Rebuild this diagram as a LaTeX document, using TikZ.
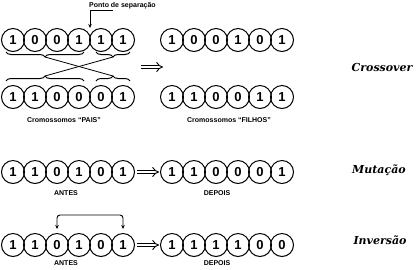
\documentclass[tikz,border=0pt]{standalone}
\usepackage{fontspec}
\setmainfont{Liberation Sans}
\newfontfamily\headfont{DejaVu Serif}
\usetikzlibrary{arrows.meta,positioning,calc,decorations.pathreplacing}

\begin{document}
\begin{tikzpicture}[x=1pt,y=1pt,
   bit/.style={circle,draw,line width=1pt,minimum size=23pt,inner sep=0pt,font=\bfseries\fontsize{13}{13}\selectfont},
   lbl/.style={font=\bfseries\fontsize{7}{8}\selectfont,inner sep=1pt},
   ttl/.style={font=\headfont\bfseries\itshape\fontsize{11}{13}\selectfont},
   br/.style={decorate,decoration={brace,amplitude=5pt},line width=1pt},
   dbl/.style={double,double distance=2.6pt,line width=0.9pt,-{Implies}},
   a/.style={-{Stealth[length=4pt,width=3.5pt]},line width=0.7pt},
   sw/.style={{Stealth[length=4pt,width=3.5pt]}-{Stealth[length=4pt,width=3.5pt]},line width=0.9pt,rounded corners=3pt}]
  \useasboundingbox (0,0) rectangle (419,-269);
  \foreach \v [count=\i] in {1,0,0,1,1,1} \node[bit] (pa\i) at (-9+22*\i,-40) {\v};
  \foreach \v [count=\i] in {1,1,0,0,0,1} \node[bit] (pb\i) at (-9+22*\i,-97) {\v};
  \foreach \v [count=\i] in {1,0,0,1,0,1} \node[bit] (fa\i) at (150+22*\i,-40) {\v};
  \foreach \v [count=\i] in {1,1,0,0,1,1} \node[bit] (fb\i) at (150+22*\i,-97) {\v};
  \draw[br] (84,-52) -- (6,-52);
  \draw[br] (130,-52) -- (96,-52);
  \draw[br] (6,-81) -- (84,-81);
  \draw[br] (96,-81) -- (130,-81);
  \coordinate (ta) at (45,-57);
  \coordinate (tb) at (113,-57);
  \coordinate (ua) at (45,-76);
  \coordinate (ub) at (113,-76);
  \draw[line width=0.8pt] (ta) -- (ub);
  \draw[line width=0.8pt] (tb) -- (ua);
  \node[lbl,anchor=west] (cut) at (88,-6) {Ponto de separação};
  \coordinate (gap) at (90,-28);
  \draw[a] ([xshift=25pt]cut.south west) -| (gap);
  \coordinate (xs) at (141,-67);
  \coordinate (xe) at (163,-67);
  \draw[dbl] (xs) -- (xe);
  \node[lbl] (pais) at (64,-120) {Cromossomos “PAIS”};
  \node[lbl] (filhos) at (229,-120) {Cromossomos “FILHOS”};
  \node[ttl] (cross) at (382,-67) {Crossover};

  \foreach \v [count=\i] in {1,1,0,1,0,1} \node[bit] (ma\i) at (-9+22*\i,-172) {\v};
  \foreach \v [count=\i] in {1,1,0,0,0,1} \node[bit] (md\i) at (150+22*\i,-172) {\v};
  \draw[dbl,shorten <=2pt,shorten >=1pt] (ma6) -- (md1);
  \node[lbl] (mant) at (66,-193) {ANTES};
  \node[lbl] (mdep) at (217,-193) {DEPOIS};
  \node[ttl] (mut) at (379,-170) {Mutação};

  \foreach \v [count=\i] in {1,1,0,1,0,1} \node[bit] (ia\i) at (-9+22*\i,-245) {\v};
  \foreach \v [count=\i] in {1,1,1,1,0,0} \node[bit] (id\i) at (150+22*\i,-245) {\v};
  \draw[dbl,shorten <=2pt,shorten >=1pt] (ia6) -- (id1);
  \draw[sw] ([yshift=4pt]ia3.north) -- ++(0,14) -| ([yshift=4pt]ia6.north);
  \node[lbl] (iant) at (66,-263) {ANTES};
  \node[lbl] (idep) at (217,-263) {DEPOIS};
  \node[ttl] (inv) at (380,-240) {Inversão};
\end{tikzpicture}
\end{document}
